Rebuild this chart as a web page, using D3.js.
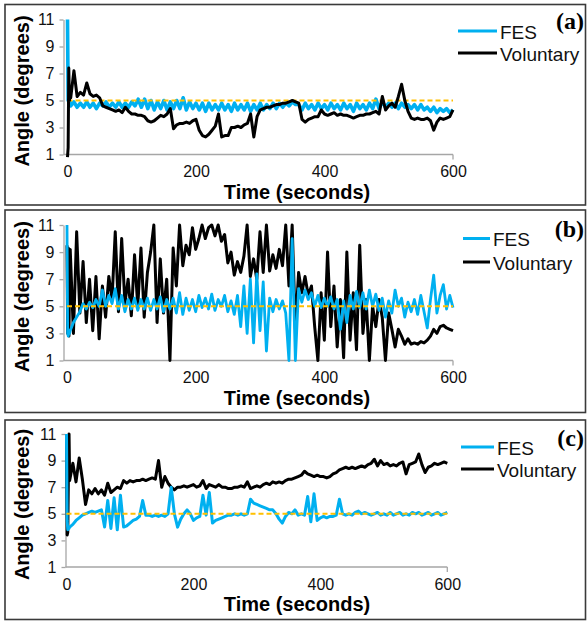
<!DOCTYPE html>
<html>
<head>
<meta charset="utf-8">
<script src="https://cdn.jsdelivr.net/npm/d3@7"></script>
<style>
  body { margin: 0; background: #fff; }
  text { font-family: "Liberation Sans", Arial, sans-serif; }
</style>
</head>
<body>
<script>
// sample times (seconds): first few seconds one by one, then every 5 s
var times = [0, 1, 2, 3, 4].concat(d3.range(5, 601, 5));

var xTicks = [0, 200, 400, 600];
var yTicks = [1, 3, 5, 7, 9, 11];
var target = 5;
var seriesNames = ["FES", "Voluntary"];

// panel (a)
var fesA = [11, 5, 5.0, 4.6, 4.9,
  4.6, 4.9, 4.5, 4.8, 4.5, 4.9, 4.5, 4.8, 4.4, 4.8, 4.6, 4.9,
  4.5, 4.8, 4.5, 4.9, 4.5, 4.8, 4.5, 4.9, 4.6, 5.1, 4.5,
  5.1, 4.4, 5.0, 4.3, 4.9, 4.4, 5.0, 4.3, 4.9, 4.4, 5.0, 4.4,
  5.2, 4.3, 4.9, 4.4, 4.8, 4.3, 4.8, 4.2, 4.8, 4.3, 4.7, 4.3,
  4.8, 4.3, 4.7, 4.2, 4.8, 4.3, 4.7, 4.3, 4.8, 4.2, 4.7, 4.3,
  4.8, 4.3, 4.7, 4.4, 4.8, 4.4, 4.8, 4.5, 4.8, 4.6, 4.9, 4.7,
  4.7, 4.3, 4.8, 4.4, 4.7, 4.3, 4.8, 4.4, 4.7, 4.3, 4.8, 4.4,
  4.7, 4.3, 4.8, 4.4, 4.7, 4.2, 4.8, 4.4, 4.7, 4.3, 4.8, 4.4,
  5.1, 4.4, 4.9, 4.5, 4.8, 4.5, 4.8, 4.4, 4.8, 4.5, 4.7, 4.4,
  4.7, 4.3, 4.7, 4.3, 4.5, 4.2, 4.5, 4.1, 4.4, 4.2, 4.4, 4.1,
  4.3];
var volA = [0.8, 1.5, 7.4, 5.0, 6.0,
  5.2, 7.2, 5.3, 5.6, 5.4, 6.3, 5.5, 5.3, 5.4, 5.2, 4.6, 4.5,
  4.4, 4.3, 4.2, 4.3, 4.1, 4.5, 4.2, 4.0, 4.0, 3.9, 3.9,
  3.8, 3.5, 3.4, 3.5, 3.7, 3.9, 3.8, 4.0, 4.4, 2.9, 3.2, 3.3,
  3.3, 3.4, 3.3, 3.5, 3.6, 2.8, 2.4, 2.3, 2.5, 2.8, 3.1, 4.0,
  2.3, 2.4, 2.4, 3.0, 3.0, 3.1, 3.0, 3.2, 3.3, 4.0, 2.3, 3.8,
  4.3, 4.4, 4.5, 4.5, 4.6, 4.7, 4.7, 4.8, 4.8, 4.9, 5.0, 4.9,
  4.8, 3.6, 3.4, 3.6, 3.7, 3.8, 3.8, 4.3, 4.0, 3.9, 4.0, 4.1,
  3.9, 4.0, 3.9, 3.9, 3.8, 3.7, 3.8, 3.9, 3.9, 4.0, 4.0, 4.1,
  4.2, 4.0, 5.3, 4.3, 4.6, 4.8, 4.5, 5.3, 6.2, 5.0, 4.2, 3.7,
  3.6, 3.7, 3.6, 3.6, 3.7, 3.5, 2.8, 3.4, 3.7, 3.6, 3.7, 3.8,
  4.3];

// panel (b)
var fesB = [11, 3.0, 2.8, 3.2, 3.0,
  3.2, 3.8, 4.2, 4.6, 5.2, 4.8, 5.3, 4.9, 5.5, 5.0, 6.2, 5.0,
  5.8, 5.2, 6.3, 4.8, 5.8, 4.6, 5.5, 4.8, 5.6, 4.7, 5.5,
  4.8, 5.6, 4.7, 5.5, 4.8, 5.7, 4.6, 5.5, 4.8, 5.6, 4.5, 6.0,
  4.4, 5.6, 4.7, 5.5, 4.6, 5.8, 4.9, 5.6, 4.8, 5.9, 4.7, 5.5,
  5.0, 5.8, 4.6, 5.4, 4.4, 5.8, 3.5, 6.5, 3.0, 7.0, 2.3, 7.4,
  3.2, 6.8, 1.7, 5.6, 4.6, 5.5, 4.8, 5.4, 4.5, 1.0, 10.0, 1.0,
  6.3, 5.3, 6.2, 5.5, 6.0, 5.0, 5.8, 4.9, 5.6, 5.0, 5.7, 4.8,
  5.5, 3.3, 5.4, 3.8, 5.8, 4.8, 6.1, 4.9, 6.0, 4.8, 6.2, 5.0,
  5.9, 4.7, 5.6, 4.2, 5.4, 4.5, 6.2, 5.0, 5.6, 4.2, 5.3, 4.6,
  5.5, 4.4, 5.8, 4.6, 3.4, 5.5, 7.3, 4.5, 5.8, 6.6, 4.8, 5.8,
  4.9];
var volB = [9.5, 3.0, 9.3, 2.8, 7.0,
  9.2, 3.0, 10.5, 4.5, 8.3, 3.8, 7.0, 3.2, 7.2, 2.6, 6.5, 4.2,
  7.2, 5.5, 10.5, 4.6, 10.0, 5.2, 7.0, 4.3, 8.8, 5.0, 9.3,
  4.2, 7.5, 9.0, 11.0, 3.8, 8.5, 4.5, 7.0, 1.0, 9.3, 6.5, 11.0,
  8.0, 9.5, 8.8, 10.8, 9.2, 10.0, 11.0, 10.0, 10.8, 11.0, 10.2, 11.0,
  9.8, 10.3, 8.2, 9.0, 7.3, 8.3, 7.5, 8.7, 11.0, 7.2, 8.5, 7.0,
  10.5, 7.5, 11.0, 7.6, 8.8, 7.8, 9.2, 8.0, 11.0, 6.5, 11.0, 3.3,
  7.5, 6.0, 7.2, 5.8, 6.5, 3.5, 1.0, 6.0, 2.5, 9.0, 3.5, 6.5,
  2.0, 5.5, 1.2, 9.0, 2.5, 6.0, 1.8, 9.5, 3.0, 5.5, 1.0, 5.0,
  3.5, 5.5, 4.2, 1.0, 4.5, 3.3, 2.0, 3.3, 2.8, 2.2, 2.6, 2.2,
  2.3, 2.2, 2.4, 2.3, 2.5, 2.8, 3.3, 3.0, 3.5, 3.6, 3.4, 3.3,
  3.2];

// panel (c)
var fesC = [11, 4.5, 3.8, 3.9, 3.9,
  4.0, 4.2, 4.5, 4.7, 4.9, 5.0, 5.1, 5.2, 5.1, 5.2, 5.3, 4.0,
  6.0, 3.9, 6.2, 3.8, 6.4, 4.0, 4.1, 4.3, 4.5, 4.6, 4.8,
  6.0, 4.9, 4.9, 4.8, 4.9, 4.8, 4.9, 4.8, 5.0, 7.0, 5.0, 4.0,
  4.6, 5.0, 5.3, 5.0, 4.5, 4.7, 4.8, 6.4, 4.9, 6.6, 4.3, 4.5,
  4.6, 4.7, 4.8, 4.9, 4.9, 5.0, 4.9, 5.0, 4.9, 5.0, 6.1, 5.8,
  5.7, 5.6, 5.5, 5.4, 5.3, 5.3, 5.0, 4.6, 4.3, 4.8, 5.1, 5.0,
  5.3, 4.9, 5.0, 4.9, 6.3, 4.4, 6.5, 4.5, 4.7, 4.8, 4.7, 4.8,
  4.8, 4.9, 6.1, 5.0, 4.9, 5.0, 4.9, 5.1, 5.2, 5.0, 5.1, 5.0,
  4.9, 5.0, 5.1, 4.9, 5.0, 4.9, 5.1, 4.9, 5.0, 5.1, 4.9, 5.0,
  4.9, 5.1, 5.0, 5.1, 4.9, 5.0, 5.1, 4.9, 5.0, 5.1, 4.9, 5.0,
  5.1];
var volC = [11, 3.4, 3.6, 8.0, 11.0,
  7.5, 8.8, 7.4, 9.2, 7.6, 5.7, 6.8, 6.5, 6.9, 6.5, 6.8, 6.4,
  7.3, 6.6, 6.8, 7.0, 6.9, 7.5, 7.3, 7.5, 7.4, 7.5, 7.5,
  7.6, 7.5, 7.6, 7.7, 7.6, 9.0, 7.0, 7.8, 7.3, 7.0, 6.8, 7.0,
  7.0, 7.1, 7.0, 7.1, 7.2, 7.0, 7.1, 7.5, 6.9, 7.2, 7.1, 7.0,
  7.2, 7.0, 7.0, 6.9, 6.9, 7.0, 7.0, 7.1, 7.0, 7.4, 6.9, 7.0,
  7.1, 7.0, 7.2, 7.3, 7.2, 7.4, 7.3, 7.4, 7.3, 7.5, 7.6, 7.6,
  7.7, 7.8, 7.9, 8.2, 8.0, 7.9, 7.8, 7.9, 7.8, 7.8, 7.7, 7.8,
  8.0, 8.1, 8.3, 8.4, 8.5, 8.4, 8.5, 8.4, 8.5, 8.6, 8.5, 8.7,
  8.8, 9.1, 8.6, 9.0, 8.7, 8.8, 8.6, 8.7, 8.6, 8.8, 8.9, 8.0,
  8.7, 8.8, 8.9, 9.5, 8.7, 8.1, 8.5, 8.6, 8.8, 8.7, 8.8, 8.9,
  8.8];

var blue = "#00b0f0", black = "#000000", orange = "#ffc000";

// layout of the three stacked panels
var panels = [
  {fes: fesA, vol: volA, tag: "(a)", top: 4.5, bottom: 205, x0: 67.5, x1: 453, yTop: 19.5, yBot: 154.5,
   axisX: 63.5, legX: 458, legX2: 497, legY: 31, legGap: 22, tagY: 29, fesOnTop: false, fesW: 3.6, volW: 3},
  {fes: fesB, vol: volB, tag: "(b)", top: 210, bottom: 412.5, x0: 67, x1: 453, yTop: 225, yBot: 360.5,
   axisX: 63.5, legX: 463, legX2: 490, legY: 238.5, legGap: 23.5, tagY: 237, fesOnTop: true, fesW: 2.8, volW: 3},
  {fes: fesC, vol: volC, tag: "(c)", top: 420, bottom: 619.5, x0: 66.5, x1: 447.3, yTop: 434, yBot: 567,
   axisX: 65.5, legX: 461, legX2: 494, legY: 447, legGap: 22, tagY: 446, fesOnTop: true, fesW: 3, volW: 3}
];

var svg = d3.select("body").append("svg")
    .attr("width", 587)
    .attr("height", 622);

panels.forEach(function(p) {
  var g = svg.append("g");

  // panel frame
  g.append("rect")
      .attr("x", 5).attr("y", p.top)
      .attr("width", 580.5).attr("height", p.bottom - p.top)
      .attr("fill", "none")
      .attr("stroke", "#3a3a3a")
      .attr("stroke-width", 1.6);

  var x = d3.scaleLinear().domain([0, 600]).range([p.x0, p.x1]);
  var y = d3.scaleLinear().domain([1, 11]).range([p.yBot, p.yTop]);

  // y axis
  var yAxis = g.append("g")
      .attr("transform", "translate(" + p.axisX + ",0)")
      .call(d3.axisLeft(y).tickValues(yTicks).tickSize(4).tickSizeOuter(0).tickPadding(5));
  yAxis.select(".domain").attr("stroke", "#a6a6a6").attr("stroke-width", 1.3);
  yAxis.selectAll(".tick line").attr("stroke", "#a6a6a6").attr("stroke-width", 1.3);
  yAxis.selectAll(".tick text")
      .attr("fill", "#111")
      .style("font-size", "16px")
      .style("font-family", "'Liberation Sans', Arial, sans-serif");

  // x axis: line from the y axis to 600, one end tick, labels
  g.append("line")
      .attr("x1", p.axisX).attr("x2", x(600))
      .attr("y1", p.yBot).attr("y2", p.yBot)
      .attr("stroke", "#a6a6a6").attr("stroke-width", 1.3);
  g.append("line")
      .attr("x1", x(600)).attr("x2", x(600))
      .attr("y1", p.yBot).attr("y2", p.yBot + 5)
      .attr("stroke", "#a6a6a6").attr("stroke-width", 1.3);
  var xAxis = g.append("g")
      .attr("transform", "translate(0," + p.yBot + ")")
      .call(d3.axisBottom(x).tickValues(xTicks).tickSize(0).tickPadding(11.5));
  xAxis.select(".domain").remove();
  xAxis.selectAll(".tick text")
      .attr("fill", "#111")
      .style("font-size", "16px")
      .style("font-family", "'Liberation Sans', Arial, sans-serif");

  // axis titles
  g.append("text")
      .attr("x", 297)
      .attr("y", p.yBot + 44)
      .attr("text-anchor", "middle")
      .style("font-size", "20px")
      .style("font-weight", "bold")
      .text("Time (seconds)");
  g.append("text")
      .attr("transform", "translate(28.5," + ((p.yTop + p.yBot) / 2 + 4) + ") rotate(-90)")
      .attr("text-anchor", "middle")
      .style("font-size", "20px")
      .style("font-weight", "bold")
      .text("Angle (degrees)");

  // series
  var line = d3.line()
      .x(function(d, i) { return x(times[i]); })
      .y(function(d) { return y(d); });

  function drawSeries(values, color, width) {
    g.append("path")
        .datum(values)
        .attr("d", line)
        .attr("fill", "none")
        .attr("stroke", color)
        .attr("stroke-width", width)
        .attr("stroke-linejoin", "round");
  }
  function drawTarget() {
    g.append("line")
        .attr("x1", x(0)).attr("x2", x(600))
        .attr("y1", y(target)).attr("y2", y(target))
        .attr("stroke", orange)
        .attr("stroke-width", 2)
        .attr("stroke-dasharray", "5,3");
  }

  if (p.fesOnTop) {
    drawSeries(p.vol, black, p.volW);
    drawSeries(p.fes, blue, p.fesW);
    drawTarget();
  } else {
    drawSeries(p.fes, blue, p.fesW);
    drawTarget();
    drawSeries(p.vol, black, p.volW);
  }

  // legend
  [blue, black].forEach(function(c, i) {
    var ly = p.legY + i * p.legGap;
    g.append("line")
        .attr("x1", p.legX).attr("x2", p.legX2)
        .attr("y1", ly).attr("y2", ly)
        .attr("stroke", c)
        .attr("stroke-width", 3);
    g.append("text")
        .attr("x", p.legX2 + 3)
        .attr("y", ly + 7.5)
        .style("font-size", "19px")
        .attr("fill", "#111")
        .text(seriesNames[i]);
  });

  // panel tag
  g.append("text")
      .attr("x", 584)
      .attr("y", p.tagY)
      .attr("text-anchor", "end")
      .style("font-family", "'Liberation Serif', 'Times New Roman', serif")
      .style("font-size", "24px")
      .style("font-weight", "bold")
      .text(p.tag);
});
</script>
</body>
</html>
